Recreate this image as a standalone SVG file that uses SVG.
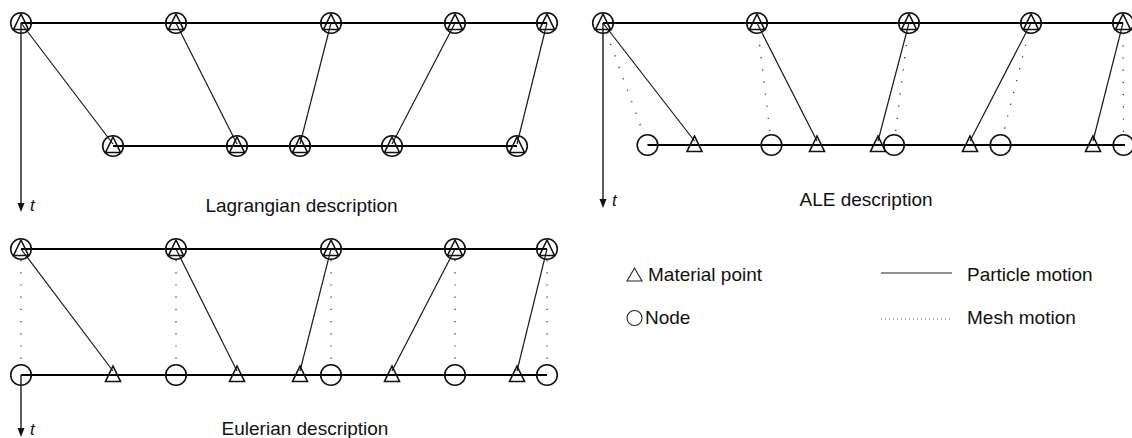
<svg xmlns="http://www.w3.org/2000/svg" xmlns:xlink="http://www.w3.org/1999/xlink" width="1132" height="438" viewBox="0 0 1132 438">
<style>
.bg{fill:#fff}
.rail{stroke:#000;stroke-width:2;fill:none}
.sol{stroke:#1a1a1a;stroke-width:1.2;fill:none}
.dot{stroke:#333;stroke-width:1.3;fill:none;stroke-dasharray:1.2 11}
.ldot{stroke:#444;stroke-width:1;fill:none;stroke-dasharray:1 3}
.sym{stroke:#111;stroke-width:1.6;fill:none}
.lab{font-family:"Liberation Sans",Arial,sans-serif;font-size:19px;fill:#111}
.t{font-family:"Liberation Sans",Arial,sans-serif;font-size:17px;font-style:italic;fill:#111}
.arr{fill:#111}
</style>
<defs>
<path id="tri" d="M0,-9 L7.5,6.5 L-7.5,6.5 Z" class="sym"/>
<circle id="circ" r="10.3" class="sym"/>
<g id="both"><use href="#circ"/><use href="#tri"/></g>
</defs>
<rect class="bg" width="1132" height="438"/>

<g id="connectors">
<!-- Lagrangian -->
<line class="rail" x1="21" y1="23" x2="547" y2="23"/>
<line class="rail" x1="113" y1="146" x2="517" y2="146"/>
<line class="sol" x1="21" y1="23" x2="113" y2="144"/>
<line class="sol" x1="176" y1="23" x2="237" y2="144"/>
<line class="sol" x1="331" y1="23" x2="300" y2="144"/>
<line class="sol" x1="455" y1="23" x2="392" y2="144"/>
<line class="sol" x1="547" y1="23" x2="517" y2="144"/>
<line class="sol" x1="21" y1="23" x2="21" y2="204" style="stroke-width:1.4"/>
<path class="arr" d="M17.5,203 L24.5,203 L21,212 Z"/>
<!-- ALE -->
<line class="rail" x1="603" y1="23" x2="1123" y2="23"/>
<line class="rail" x1="647.5" y1="145" x2="1125" y2="145"/>
<line class="sol" x1="603" y1="23" x2="694.5" y2="141"/>
<line class="sol" x1="757" y1="23" x2="817" y2="141"/>
<line class="sol" x1="909" y1="23" x2="878" y2="141"/>
<line class="sol" x1="1031" y1="23" x2="970" y2="141"/>
<line class="sol" x1="1123" y1="23" x2="1093" y2="141"/>
<line class="dot" x1="606.4" y1="32.4" x2="644.1" y2="135.6"/>
<line class="dot" x1="758.2" y1="32.9" x2="770.3" y2="135.1"/>
<line class="dot" x1="907.8" y1="32.9" x2="895.2" y2="135.1"/>
<line class="dot" x1="1028.6" y1="32.7" x2="1002.9" y2="135.3"/>
<line class="dot" x1="1123" y1="33" x2="1123.5" y2="135"/>
<line class="sol" x1="603" y1="23" x2="603" y2="200" style="stroke-width:1.4"/>
<path class="arr" d="M599.5,199 L606.5,199 L603,208 Z"/>
<!-- Eulerian -->
<line class="rail" x1="21" y1="249" x2="547" y2="249"/>
<line class="rail" x1="21" y1="375" x2="547" y2="375"/>
<line class="sol" x1="21" y1="249" x2="113" y2="371"/>
<line class="sol" x1="176" y1="249" x2="237" y2="371"/>
<line class="sol" x1="331" y1="249" x2="300" y2="371"/>
<line class="sol" x1="455" y1="249" x2="392" y2="371"/>
<line class="sol" x1="547" y1="249" x2="517" y2="371"/>
<line class="dot" x1="21" y1="260" x2="21" y2="364"/>
<line class="dot" x1="176" y1="260" x2="176" y2="364"/>
<line class="dot" x1="331" y1="260" x2="331" y2="364"/>
<line class="dot" x1="455" y1="260" x2="455" y2="364"/>
<line class="dot" x1="547" y1="260" x2="547" y2="364"/>
<line class="sol" x1="21" y1="375" x2="21" y2="429" style="stroke-width:1.4"/>
<path class="arr" d="M17.5,428 L24.5,428 L21,437 Z"/>
</g>

<g id="lagrangian-nodes">
<g id="lag-top-1"><use href="#both" x="21" y="23"/></g>
<g id="lag-top-2"><use href="#both" x="176" y="23"/></g>
<g id="lag-top-3"><use href="#both" x="331" y="23"/></g>
<g id="lag-top-4"><use href="#both" x="455" y="23"/></g>
<g id="lag-top-5"><use href="#both" x="547" y="23"/></g>
<g id="lag-bot-1"><use href="#both" x="113" y="146"/></g>
<g id="lag-bot-2"><use href="#both" x="237" y="146"/></g>
<g id="lag-bot-3"><use href="#both" x="300" y="146"/></g>
<g id="lag-bot-4"><use href="#both" x="392" y="146"/></g>
<g id="lag-bot-5"><use href="#both" x="517" y="146"/></g>
</g>

<g id="ale-nodes">
<g id="ale-top-1"><use href="#both" x="603" y="23"/></g>
<g id="ale-top-2"><use href="#both" x="757" y="23"/></g>
<g id="ale-top-3"><use href="#both" x="909" y="23"/></g>
<g id="ale-top-4"><use href="#both" x="1031" y="23"/></g>
<g id="ale-top-5"><use href="#both" x="1123" y="23"/></g>
<g id="ale-node-1"><use href="#circ" x="647.5" y="145"/></g>
<g id="ale-node-2"><use href="#circ" x="771.5" y="145"/></g>
<g id="ale-node-3"><use href="#circ" x="894" y="145"/></g>
<g id="ale-node-4"><use href="#circ" x="1000.5" y="145"/></g>
<g id="ale-node-5"><use href="#circ" x="1123.5" y="145"/></g>
<g id="ale-mat-1"><use href="#tri" x="694.5" y="145"/></g>
<g id="ale-mat-2"><use href="#tri" x="817" y="145"/></g>
<g id="ale-mat-3"><use href="#tri" x="878" y="145"/></g>
<g id="ale-mat-4"><use href="#tri" x="970" y="145"/></g>
<g id="ale-mat-5"><use href="#tri" x="1093" y="145"/></g>
</g>

<g id="eulerian-nodes">
<g id="eul-top-1"><use href="#both" x="21" y="249"/></g>
<g id="eul-top-2"><use href="#both" x="176" y="249"/></g>
<g id="eul-top-3"><use href="#both" x="331" y="249"/></g>
<g id="eul-top-4"><use href="#both" x="455" y="249"/></g>
<g id="eul-top-5"><use href="#both" x="547" y="249"/></g>
<g id="eul-node-1"><use href="#circ" x="21" y="375"/></g>
<g id="eul-node-2"><use href="#circ" x="176" y="375"/></g>
<g id="eul-node-3"><use href="#circ" x="331" y="375"/></g>
<g id="eul-node-4"><use href="#circ" x="455" y="375"/></g>
<g id="eul-node-5"><use href="#circ" x="547" y="375"/></g>
<g id="eul-mat-1"><use href="#tri" x="113" y="375"/></g>
<g id="eul-mat-2"><use href="#tri" x="237" y="375"/></g>
<g id="eul-mat-3"><use href="#tri" x="300" y="375"/></g>
<g id="eul-mat-4"><use href="#tri" x="392" y="375"/></g>
<g id="eul-mat-5"><use href="#tri" x="517" y="375"/></g>
</g>

<g id="labels">
<text class="t" x="30" y="211">t</text>
<text class="t" x="612" y="206">t</text>
<text class="t" x="30" y="435">t</text>
<text class="lab" x="301.5" y="211.5" text-anchor="middle">Lagrangian description</text>
<text class="lab" x="866" y="205.5" text-anchor="middle">ALE description</text>
<text class="lab" x="305" y="435" text-anchor="middle">Eulerian description</text>
</g>

<g id="legend">
<path d="M634.5,268 L642,281 L627,281 Z" style="stroke:#222;stroke-width:1.1;fill:none"/>
<text class="lab" x="648" y="281">Material point</text>
<circle cx="634.5" cy="318" r="7.5" style="stroke:#222;stroke-width:1.1;fill:none"/>
<text class="lab" x="645" y="324">Node</text>
<line x1="881" y1="273" x2="952" y2="273" style="stroke:#222;stroke-width:1.1"/>
<text class="lab" x="967" y="281">Particle motion</text>
<line class="ldot" x1="881" y1="319" x2="952" y2="319"/>
<text class="lab" x="967" y="324">Mesh motion</text>
</g>
</svg>
